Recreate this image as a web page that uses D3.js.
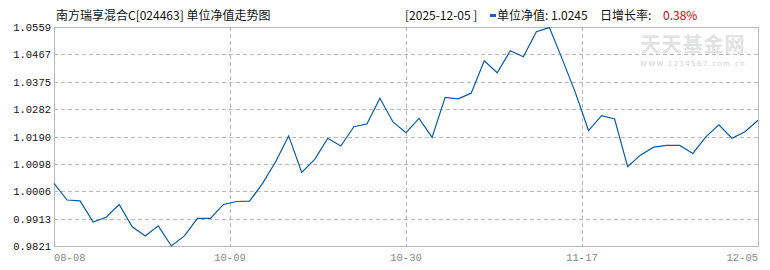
<!DOCTYPE html>
<html><head><meta charset="utf-8">
<script src="https://cdn.jsdelivr.net/npm/d3@7"></script>
<style>html,body{margin:0;padding:0;background:#fff;}svg{display:block;}</style>
</head><body>
<svg id="c" width="770" height="270"></svg>
<script>
const title = "南方瑞享混合C[024463] 单位净值走势图";
const latestDate = "2025-12-05";
const latestNav = "1.0245";
const latestGrowth = "0.38%";
const navValues = [1.0032, 0.9976, 0.9973, 0.9902, 0.9918, 0.9961, 0.9886, 0.9855, 0.9889, 0.9821,
  0.9855, 0.9914, 0.9914, 0.9961, 0.9971, 0.9972, 1.0032, 1.0105, 1.0192, 1.0069,
  1.0113, 1.0184, 1.0158, 1.0223, 1.0232, 1.0319, 1.0239, 1.0203, 1.0251, 1.0187,
  1.0322, 1.0317, 1.0336, 1.0445, 1.0405, 1.0479, 1.0459, 1.0543, 1.0557, 1.0449,
  1.0337, 1.0210, 1.0260, 1.0249, 1.0088, 1.0128, 1.0154, 1.0160, 1.0160, 1.0133,
  1.0189, 1.0229, 1.0184, 1.0206, 1.0245];
const yTickLabels = ["0.9821", "0.9913", "1.0006", "1.0098", "1.0190", "1.0282", "1.0375", "1.0467", "1.0559"];
const xTickLabels = ["08-08", "10-09", "10-30", "11-17", "12-05"];

const svg = d3.select("#c");
const L = 54, R = 758, T = 27, B = 246;
const x = d3.scaleLinear().domain([0, navValues.length - 1]).range([L, R]);
const y = d3.scaleLinear().domain([+yTickLabels[0], +yTickLabels[yTickLabels.length - 1]]).range([B, T]);
const gridCol = "#b8b8b8";
const monoFont = "'Liberation Mono','DejaVu Sans Mono',monospace";
const cjkFont = "'Noto Sans CJK SC','Noto Sans',sans-serif";

// watermark
svg.append("text").attr("x", 693).attr("y", 52).attr("text-anchor", "middle")
  .attr("font-family", cjkFont).attr("font-size", 20).attr("font-weight", "bold")
  .attr("fill", "#e2e2e2").attr("letter-spacing", 1).text("天天基金网");
svg.append("text").attr("x", 693).attr("y", 66).attr("text-anchor", "middle")
  .attr("font-family", "'DejaVu Sans',sans-serif").attr("font-size", 7)
  .attr("fill", "#cfcfcf").attr("letter-spacing", 1.4).text("WWW.1234567.com.cn");

// horizontal grid
svg.append("g").selectAll("line").data(yTickLabels.slice(1, -1)).join("line")
  .attr("x1", L).attr("x2", R)
  .attr("y1", d => Math.round(y(+d)) + 0.5).attr("y2", d => Math.round(y(+d)) + 0.5)
  .attr("stroke", gridCol).attr("stroke-dasharray", "4,3");

// vertical grid at quarter positions
const n1 = navValues.length - 1;
const xTickPos = xTickLabels.map((t, i) => x(n1 * i / (xTickLabels.length - 1)));
svg.append("g").selectAll("line").data(xTickPos.slice(1, -1)).join("line")
  .attr("x1", d => Math.round(d) + 0.5).attr("x2", d => Math.round(d) + 0.5)
  .attr("y1", T).attr("y2", B)
  .attr("stroke", gridCol).attr("stroke-dasharray", "4,3");

// frame
svg.append("rect").attr("x", L + 0.5).attr("y", T + 0.5).attr("width", R - L).attr("height", B - T)
  .attr("fill", "none").attr("stroke", gridCol).attr("stroke-width", 1);

// y labels
svg.append("g").selectAll("text").data(yTickLabels).join("text")
  .attr("x", 51).attr("y", d => y(+d) + 4).attr("text-anchor", "end")
  .attr("font-family", monoFont).attr("font-size", 10.5).attr("fill", "#111").text(d => d);

// x labels
svg.append("g").selectAll("text").data(xTickLabels).join("text")
  .attr("x", (d, i) => xTickPos[i])
  .attr("y", 261)
  .attr("text-anchor", (d, i) => i === 0 ? "start" : (i === xTickLabels.length - 1 ? "end" : "middle"))
  .attr("font-family", monoFont).attr("font-size", 10.5).attr("fill", "#888").text(d => d);

// line
svg.append("path").datum(navValues)
  .attr("d", d3.line().x((d, i) => x(i)).y(d => y(d)))
  .attr("fill", "none").attr("stroke", "#0a5aa8").attr("stroke-width", 1.2);

// title
svg.append("text").attr("x", 56).attr("y", 20).attr("font-family", cjkFont).attr("font-size", 12)
  .attr("fill", "#111").text(title);

// header info
svg.append("text").attr("x", 405).attr("y", 20).attr("font-family", cjkFont).attr("font-size", 12)
  .attr("fill", "#111").text("[" + latestDate + " ]");
svg.append("rect").attr("x", 490).attr("y", 14).attr("width", 6).attr("height", 3).attr("fill", "#1a5fb4");
svg.append("text").attr("x", 497).attr("y", 20).attr("font-family", cjkFont).attr("font-size", 12)
  .attr("fill", "#111").text("单位净值: " + latestNav);
svg.append("text").attr("x", 600).attr("y", 20).attr("font-family", cjkFont).attr("font-size", 12)
  .attr("fill", "#111").text("日增长率:");
svg.append("text").attr("x", 663).attr("y", 20).attr("font-family", cjkFont).attr("font-size", 12)
  .attr("fill", "#e00000").text(latestGrowth);
</script>
</body></html>
